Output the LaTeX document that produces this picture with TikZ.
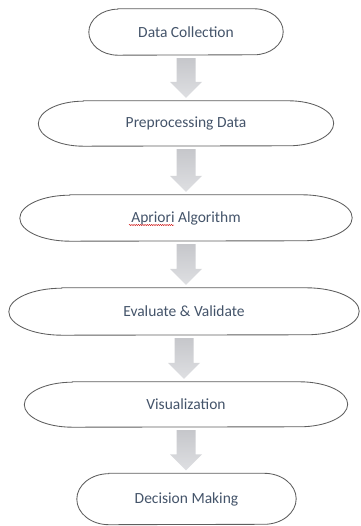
\documentclass[tikz,border=0pt]{standalone}
\usepackage{fontspec}
\setmainfont{Carlito}
\usetikzlibrary{calc,decorations.pathmorphing}

\definecolor{txtblue}{HTML}{44546A}
\definecolor{edge}{HTML}{5E5E5E}
\definecolor{arrowtop}{HTML}{C6C7CB}
\definecolor{arrowbot}{HTML}{DEDFE2}

\tikzset{
  stage/.style={inner sep=0pt, text=txtblue,
    font=\fontsize{15.5}{18}\selectfont},
  outline/.style={draw=edge, line width=0.85pt, fill=white},
  blockarrow/.style={top color=arrowtop, bottom color=arrowbot, draw=none},
}

% \stadium{name}{cx}{cy}{width}{height}{end radius}{label}
\newcommand{\stadium}[7]{%
  \node[stage, minimum width=#4pt, minimum height=#5pt] (#1) at (#2pt,#3pt) {};
  \draw[outline]
    ($(#1.north west)+(#6pt,0)$) -- ($(#1.north east)+(-#6pt,0)$)
    arc[start angle=90, end angle=-90, x radius=#6pt, y radius={#5pt/2}]
    -- ($(#1.south west)+(#6pt,0)$)
    arc[start angle=270, end angle=90, x radius=#6pt, y radius={#5pt/2}]
    -- cycle;
  \node[stage] at (#1.center) {#7};
}

% \flow{from}{to}: broad grey arrow between two stages
\newcommand{\flow}[2]{%
  \path[blockarrow] let \p1=($(#1.south)+(0,-3pt)$), \p2=($(#2.north)+(0,3pt)$) in
    ({\x1-9.5pt},\y1) -- ({\x1+9.5pt},\y1) -- ({\x1+9.5pt},{\y2+16pt})
    -- ({\x1+16pt},{\y2+16pt}) -- (\x1,\y2) -- ({\x1-16pt},{\y2+16pt})
    -- ({\x1-9.5pt},{\y2+16pt}) -- cycle;
}

\begin{document}
\begin{tikzpicture}[x=1pt,y=1pt]
  \useasboundingbox (0,0) rectangle (360,526);

  \stadium{collect}{186}{494}{194}{46}{29}{Data Collection}
  \stadium{prep}{186}{402.5}{295}{45}{45}{Preprocessing Data}
  \stadium{apriori}{186}{308}{332}{46}{50}{Apriori Algorithm}
  \stadium{evaluate}{184}{214.5}{350}{47}{53}{Evaluate \& Validate}
  \stadium{visual}{186}{121.5}{323}{45}{48}{Visualization}
  \stadium{decide}{186.5}{27}{219}{51}{32}{Decision Making}

  \flow{collect}{prep}
  \flow{prep}{apriori}
  \flow{apriori}{evaluate}
  \flow{evaluate}{visual}
  \flow{visual}{decide}

  % spell-check squiggle under the word Apriori
  \draw[red!80!black, line width=0.4pt,
        decorate, decoration={snake, amplitude=0.6pt, segment length=2.2pt}]
    (129,301) -- (174,301);
\end{tikzpicture}
\end{document}
